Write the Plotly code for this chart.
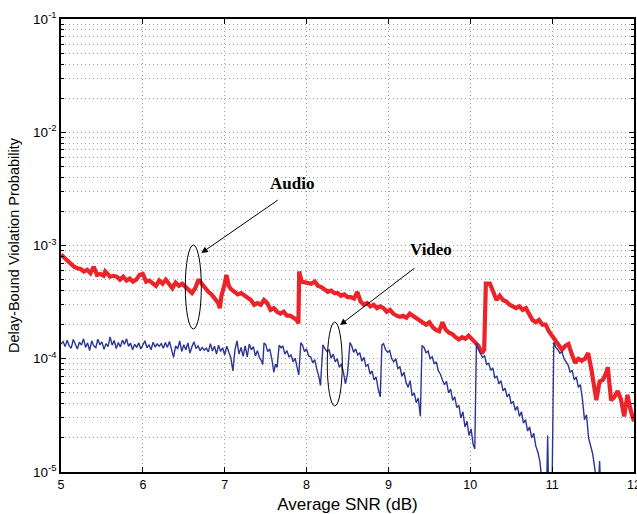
import plotly.graph_objects as go

# ---------------- data ----------------
audio_snr = [5.00, 5.04, 5.08, 5.12, 5.16, 5.20, 5.24, 5.28, 5.32, 5.36, 5.40, 5.44, 5.48, 5.52, 5.54,
             5.60, 5.64, 5.68, 5.72, 5.76, 5.80, 5.84, 5.88, 5.92, 5.96, 6.00, 6.04, 6.08, 6.12, 6.16,
             6.20, 6.24, 6.28, 6.32, 6.36, 6.40, 6.44, 6.48, 6.52, 6.56, 6.60, 6.64, 6.68, 6.72, 6.76,
             6.80, 6.84, 6.88, 6.92, 6.94, 6.96, 7.00, 7.02, 7.05, 7.08, 7.12, 7.16, 7.20, 7.24, 7.28,
             7.32, 7.36, 7.40, 7.44, 7.48, 7.52, 7.56, 7.60, 7.64, 7.68, 7.72, 7.76, 7.80, 7.84, 7.88,
             7.90, 7.91, 7.94, 7.98, 8.02, 8.06, 8.10, 8.14, 8.18, 8.22, 8.26, 8.30, 8.34, 8.38, 8.42,
             8.46, 8.50, 8.54, 8.58, 8.62, 8.66, 8.70, 8.74, 8.78, 8.82, 8.86, 8.90, 8.94, 8.98, 9.02,
             9.06, 9.10, 9.14, 9.18, 9.22, 9.26, 9.30, 9.34, 9.38, 9.42, 9.46, 9.50, 9.54, 9.58, 9.62,
             9.66, 9.70, 9.74, 9.78, 9.82, 9.86, 9.90, 9.94, 9.98, 10.02, 10.06, 10.10, 10.14, 10.17,
             10.19, 10.24, 10.28, 10.32, 10.36, 10.40, 10.44, 10.48, 10.52, 10.56, 10.60, 10.64, 10.68,
             10.72, 10.76, 10.80, 10.84, 10.88, 10.92, 10.96, 11.00, 11.04, 11.08, 11.12, 11.16, 11.20,
             11.24, 11.28, 11.32, 11.36, 11.40, 11.44, 11.48, 11.52, 11.54, 11.58, 11.62, 11.66, 11.68,
             11.72, 11.76, 11.80, 11.84, 11.88, 11.92, 11.96, 12.00]
audio_prob = [8.3e-4, 7.8e-4, 7.3e-4, 6.9e-4, 6.5e-4, 6.3e-4, 6.2e-4, 5.9e-4, 6.1e-4, 5.7e-4, 6.5e-4, 5.5e-4, 5.6e-4, 5.4e-4, 5.9e-4,
              5.3e-4, 5.4e-4, 5.3e-4, 5.0e-4, 5.3e-4, 4.9e-4, 5.1e-4, 4.8e-4, 5.0e-4, 5.5e-4, 5.6e-4, 4.8e-4, 4.9e-4, 4.6e-4, 4.4e-4,
              4.9e-4, 4.6e-4, 5.0e-4, 4.5e-4, 4.2e-4, 4.7e-4, 4.4e-4, 4.6e-4, 4.3e-4, 4.1e-4, 3.8e-4, 4.2e-4, 5.0e-4, 4.6e-4, 4.2e-4,
              3.9e-4, 3.7e-4, 3.4e-4, 3.1e-4, 2.8e-4, 3.6e-4, 4.6e-4, 5.5e-4, 4.4e-4, 4.1e-4, 3.9e-4, 3.7e-4, 3.8e-4, 3.6e-4, 3.5e-4,
              3.3e-4, 3.0e-4, 3.1e-4, 3.0e-4, 3.3e-4, 3.1e-4, 2.7e-4, 2.8e-4, 2.6e-4, 2.5e-4, 2.6e-4, 2.4e-4, 2.4e-4, 2.3e-4, 2.2e-4,
              2.05e-4, 5.9e-4, 4.8e-4, 4.7e-4, 4.7e-4, 4.6e-4, 4.8e-4, 4.4e-4, 4.3e-4, 4.1e-4, 3.9e-4, 4.0e-4, 3.8e-4, 3.8e-4, 3.6e-4,
              3.7e-4, 3.5e-4, 3.5e-4, 3.4e-4, 3.9e-4, 3.2e-4, 3.0e-4, 3.1e-4, 2.9e-4, 3.0e-4, 2.8e-4, 2.9e-4, 2.8e-4, 2.6e-4, 2.7e-4,
              2.5e-4, 2.4e-4, 2.35e-4, 2.4e-4, 2.3e-4, 2.5e-4, 2.4e-4, 2.3e-4, 2.2e-4, 2.1e-4, 2.0e-4, 2.1e-4, 1.9e-4, 1.8e-4, 1.75e-4,
              2.1e-4, 1.8e-4, 1.7e-4, 1.65e-4, 1.55e-4, 1.48e-4, 1.55e-4, 1.5e-4, 1.6e-4, 1.5e-4, 1.42e-4, 1.3e-4, 1.12e-4, 1.2e-4,
              4.6e-4, 4.6e-4, 3.9e-4, 3.3e-4, 3.6e-4, 3.3e-4, 3.2e-4, 3.0e-4, 2.9e-4, 2.8e-4, 2.9e-4, 2.7e-4, 2.8e-4,
              2.5e-4, 2.2e-4, 2.1e-4, 2.2e-4, 2.0e-4, 2.0e-4, 1.75e-4, 1.6e-4, 1.45e-4, 1.33e-4, 1.2e-4, 1.3e-4, 1.35e-4,
              1.1e-4, 9.2e-5, 1.0e-4, 9.6e-5, 1.0e-4, 1.12e-4, 8.0e-5, 5.0e-5, 4.3e-5, 6.3e-5, 6.5e-5, 7.5e-5, 8.4e-5,
              4.3e-5, 4.6e-5, 5.2e-5, 4.4e-5, 3.1e-5, 4.8e-5, 3.5e-5, 2.8e-5]

video_snr = [5.000, 5.025, 5.050, 5.075, 5.100, 5.125, 5.150, 5.175, 5.200, 5.225, 5.250, 5.275, 5.300, 5.325, 5.350,
             5.375, 5.400, 5.425, 5.450, 5.475, 5.500, 5.525, 5.550, 5.575, 5.600, 5.625, 5.650, 5.675, 5.700, 5.725,
             5.750, 5.775, 5.800, 5.825, 5.850, 5.875, 5.900, 5.925, 5.950, 5.975, 6.000, 6.025, 6.050, 6.075, 6.100,
             6.125, 6.150, 6.175, 6.200, 6.225, 6.250, 6.275, 6.300, 6.325, 6.350, 6.375, 6.400, 6.425, 6.450, 6.475,
             6.500, 6.525, 6.550, 6.575, 6.600, 6.625, 6.650, 6.675, 6.700, 6.725, 6.750, 6.775, 6.800, 6.825, 6.850,
             6.875, 6.900, 6.925, 6.950, 6.975, 7.000, 7.025, 7.050, 7.075, 7.100, 7.125, 7.150, 7.175, 7.200, 7.225,
             7.250, 7.275, 7.300, 7.325, 7.350, 7.375, 7.400, 7.425, 7.450, 7.465, 7.480, 7.500, 7.525, 7.550, 7.575,
             7.600, 7.620, 7.640, 7.665, 7.690, 7.710, 7.735, 7.760, 7.785, 7.810, 7.835, 7.860, 7.885, 7.905, 7.930,
             7.950, 7.975, 8.000, 8.025, 8.050, 8.075, 8.100, 8.125, 8.150, 8.170, 8.200, 8.225, 8.250, 8.275, 8.300,
             8.325, 8.350, 8.375, 8.400, 8.425, 8.450, 8.475, 8.500, 8.530, 8.550, 8.575, 8.600, 8.625, 8.650, 8.675,
             8.700, 8.725, 8.750, 8.775, 8.800, 8.825, 8.850, 8.875, 8.900, 8.920, 8.940, 8.965, 8.990, 9.015, 9.040,
             9.065, 9.090, 9.115, 9.140, 9.165, 9.190, 9.215, 9.240, 9.265, 9.290, 9.315, 9.340, 9.365, 9.390, 9.410,
             9.435, 9.460, 9.485, 9.510, 9.535, 9.560, 9.585, 9.610, 9.635, 9.660, 9.685, 9.710, 9.735, 9.760, 9.785,
             9.810, 9.835, 9.860, 9.885, 9.910, 9.935, 9.960, 9.985, 10.010, 10.035, 10.055, 10.075, 10.100, 10.125, 10.150,
             10.175, 10.200, 10.225, 10.250, 10.275, 10.300, 10.325, 10.350, 10.375, 10.400, 10.425, 10.450, 10.475, 10.500, 10.525,
             10.550, 10.575, 10.600, 10.625, 10.650, 10.675, 10.700, 10.725, 10.750, 10.775, 10.800, 10.825, 10.850, 10.870, 10.900,
             10.935, 10.945, 10.955, 11.000, 11.020, 11.045, 11.070, 11.095, 11.120, 11.145, 11.170, 11.195, 11.220, 11.245, 11.270,
             11.295, 11.320, 11.345, 11.370, 11.395, 11.420, 11.445, 11.470, 11.495, 11.515, 11.535, 11.570, 11.580, 11.590, 11.620]
video_prob = [13.5e-5, 14.2e-5, 12.8e-5, 14.6e-5, 13.0e-5, 12.4e-5, 14.8e-5, 13.6e-5, 12.2e-5, 14.0e-5, 13.2e-5, 15.0e-5, 12.6e-5, 13.8e-5, 11.8e-5,
              14.4e-5, 13.0e-5, 12.5e-5, 14.9e-5, 13.3e-5, 14.1e-5, 12.1e-5, 13.6e-5, 12.8e-5, 15.6e-5, 13.2e-5, 14.5e-5, 12.3e-5, 13.9e-5, 12.7e-5,
              14.6e-5, 13.4e-5, 15.0e-5, 12.9e-5, 13.7e-5, 12.0e-5, 13.4e-5, 12.6e-5, 13.8e-5, 12.2e-5, 13.1e-5, 14.4e-5, 12.5e-5, 13.3e-5, 12.0e-5,
              14.0e-5, 12.7e-5, 13.5e-5, 12.9e-5, 13.6e-5, 12.4e-5, 13.9e-5, 12.6e-5, 14.2e-5, 12.1e-5, 10.3e-5, 13.0e-5, 12.2e-5, 14.4e-5, 11.6e-5,
              13.3e-5, 12.0e-5, 13.8e-5, 11.2e-5, 12.8e-5, 14.1e-5, 12.3e-5, 13.0e-5, 11.8e-5, 12.6e-5, 11.9e-5, 12.4e-5, 11.5e-5, 13.6e-5, 11.7e-5,
              12.9e-5, 11.0e-5, 13.2e-5, 11.6e-5, 12.5e-5, 10.8e-5, 12.9e-5, 11.4e-5, 10.2e-5, 7.8e-5, 12.0e-5, 14.4e-5, 11.0e-5, 12.6e-5, 10.5e-5,
              13.0e-5, 10.4e-5, 13.5e-5, 12.0e-5, 12.8e-5, 10.6e-5, 11.8e-5, 10.2e-5, 9.6e-5, 8.9e-5, 13.8e-5, 13.4e-5, 11.6e-5, 12.2e-5, 10.0e-5,
              7.6e-5, 9.0e-5, 8.4e-5, 13.2e-5, 12.5e-5, 13.0e-5, 11.0e-5, 11.8e-5, 10.4e-5, 10.8e-5, 9.4e-5, 10.1e-5, 8.2e-5, 7.2e-5, 13.9e-5,
              13.2e-5, 11.6e-5, 12.2e-5, 10.6e-5, 10.4e-5, 9.2e-5, 9.8e-5, 8.1e-5, 7.0e-5, 5.8e-5, 13.3e-5, 12.2e-5, 11.6e-5, 12.0e-5, 10.1e-5,
              11.0e-5, 9.4e-5, 10.0e-5, 8.4e-5, 9.0e-5, 7.6e-5, 6.0e-5, 7.4e-5, 13.9e-5, 13.1e-5, 11.4e-5, 12.2e-5, 10.8e-5, 11.3e-5, 9.5e-5,
              10.3e-5, 8.6e-5, 8.9e-5, 7.3e-5, 7.8e-5, 6.5e-5, 6.9e-5, 5.4e-5, 4.6e-5, 13.2e-5, 13.6e-5, 12.0e-5, 11.4e-5, 11.8e-5, 10.0e-5,
              9.4e-5, 10.0e-5, 8.2e-5, 8.5e-5, 7.0e-5, 7.6e-5, 6.2e-5, 5.6e-5, 6.4e-5, 4.7e-5, 5.0e-5, 4.1e-5, 4.5e-5, 3.1e-5, 13.1e-5,
              12.6e-5, 11.3e-5, 11.7e-5, 10.0e-5, 10.4e-5, 9.0e-5, 9.4e-5, 7.8e-5, 7.3e-5, 6.5e-5, 5.9e-5, 6.3e-5, 5.0e-5, 5.4e-5, 4.3e-5,
              4.6e-5, 3.7e-5, 3.9e-5, 3.0e-5, 3.4e-5, 2.5e-5, 2.8e-5, 2.1e-5, 2.4e-5, 1.75e-5, 1.6e-5, 13.7e-5, 12.0e-5, 11.2e-5, 10.3e-5,
              10.6e-5, 8.9e-5, 9.1e-5, 7.9e-5, 8.3e-5, 6.8e-5, 7.0e-5, 6.0e-5, 6.4e-5, 5.2e-5, 5.5e-5, 4.6e-5, 4.9e-5, 4.0e-5, 4.2e-5,
              3.5e-5, 3.8e-5, 3.1e-5, 3.4e-5, 2.7e-5, 2.9e-5, 2.3e-5, 2.5e-5, 2.0e-5, 2.2e-5, 1.7e-5, 1.5e-5, 1.25e-5, 0.9e-5, 0.8e-5,
              0.85e-5, 2.1e-5, 0.8e-5, 0.8e-5, 14.0e-5, 12.6e-5, 12.0e-5, 11.2e-5, 11.5e-5, 10.0e-5, 9.4e-5, 8.8e-5, 7.6e-5, 7.9e-5, 6.5e-5,
              6.9e-5, 5.6e-5, 5.9e-5, 4.4e-5, 2.9e-5, 3.2e-5, 2.0e-5, 1.7e-5, 1.45e-5, 1.15e-5, 0.9e-5, 0.9e-5, 1.25e-5, 0.8e-5, 0.8e-5]

x_ticks = [5, 6, 7, 8, 9, 10, 11, 12]
y_ticks = [1e-5, 1e-4, 1e-3, 1e-2, 1e-1]
y_tick_labels = ["10<sup>-5</sup>", "10<sup>-4</sup>", "10<sup>-3</sup>", "10<sup>-2</sup>", "10<sup>-1</sup>"]

# ---------------- figure ----------------
fig = go.Figure()
fig.add_trace(go.Scatter(x=audio_snr, y=audio_prob, mode="lines", name="Audio",
                         line=dict(color="#EC2328", width=4.2)))
fig.add_trace(go.Scatter(x=video_snr, y=video_prob, mode="lines", name="Video",
                         line=dict(color="#2B3694", width=1.4)))

minor_vals = [k * 10.0 ** e for e in range(-5, -1) for k in range(2, 10)]
grid_col = "#a0a0a0"
grid_dash = "1px,3px"
font_axis = dict(family="Liberation Sans, Arial, sans-serif", size=12, color="black")

fig.update_layout(
    width=637, height=514,
    margin=dict(l=61, r=3, t=19, b=42),
    paper_bgcolor="white", plot_bgcolor="white",
    showlegend=False,
    font=font_axis,
)
fig.update_xaxes(
    range=[5, 12], tickvals=x_ticks, ticktext=[str(v) for v in x_ticks],
    showline=True, linecolor="black", linewidth=1.5, mirror="ticks",
    ticks="inside", ticklen=5, tickcolor="black",
    showgrid=True, gridcolor=grid_col, griddash=grid_dash, gridwidth=1,
    zeroline=False, automargin=False, ticklabeloverflow="allow",
    title=dict(text="Average SNR (dB)", font=dict(size=17), standoff=7),
    tickfont=dict(size=12.5),
)
fig.update_yaxes(
    type="log", range=[-5, -1], tickvals=y_ticks, ticktext=y_tick_labels,
    showline=True, linecolor="black", linewidth=1.5, mirror="ticks",
    ticks="inside", ticklen=5, tickcolor="black",
    showgrid=True, gridcolor=grid_col, griddash=grid_dash, gridwidth=1,
    minor=dict(tickvals=minor_vals, ticks="inside", ticklen=3, tickcolor="black",
               showgrid=True, gridcolor=grid_col, griddash=grid_dash, gridwidth=1),
    zeroline=False, automargin=False,
    title=dict(text="Delay-Bound Violation Probability", font=dict(size=14.5), standoff=10),
    tickfont=dict(size=13.5),
)

label_font = dict(family="Liberation Serif, Times New Roman, serif", size=17, color="black")
fig.add_annotation(xref="paper", yref="paper", x=0.4037, y=0.6373, text="<b>Audio</b>",
                   showarrow=False, font=label_font)
fig.add_annotation(xref="paper", yref="paper", x=0.6462, y=0.4901, text="<b>Video</b>",
                   showarrow=False, font=label_font)
fig.add_annotation(xref="paper", yref="paper", x=0.2449, y=0.4834, text="",
                   showarrow=True, ax=78, ay=-54, arrowhead=2, arrowsize=1.3, arrowwidth=1,
                   arrowcolor="black")
fig.add_annotation(xref="paper", yref="paper", x=0.4869, y=0.3245, text="",
                   showarrow=True, ax=76, ay=-58, arrowhead=2, arrowsize=1.3, arrowwidth=1,
                   arrowcolor="black")
fig.add_shape(type="circle", xref="paper", yref="paper", x0=0.2169, x1=0.2449, y0=0.3157, y1=0.5011,
              line=dict(color="black", width=1))
fig.add_shape(type="circle", xref="paper", yref="paper", x0=0.4647, x1=0.4909, y0=0.1457, y1=0.3311,
              line=dict(color="black", width=1))

fig.write_html("out.html", config={"displayModeBar": False},
               post_script="document.body.style.margin='0';document.body.style.overflow='hidden';")
